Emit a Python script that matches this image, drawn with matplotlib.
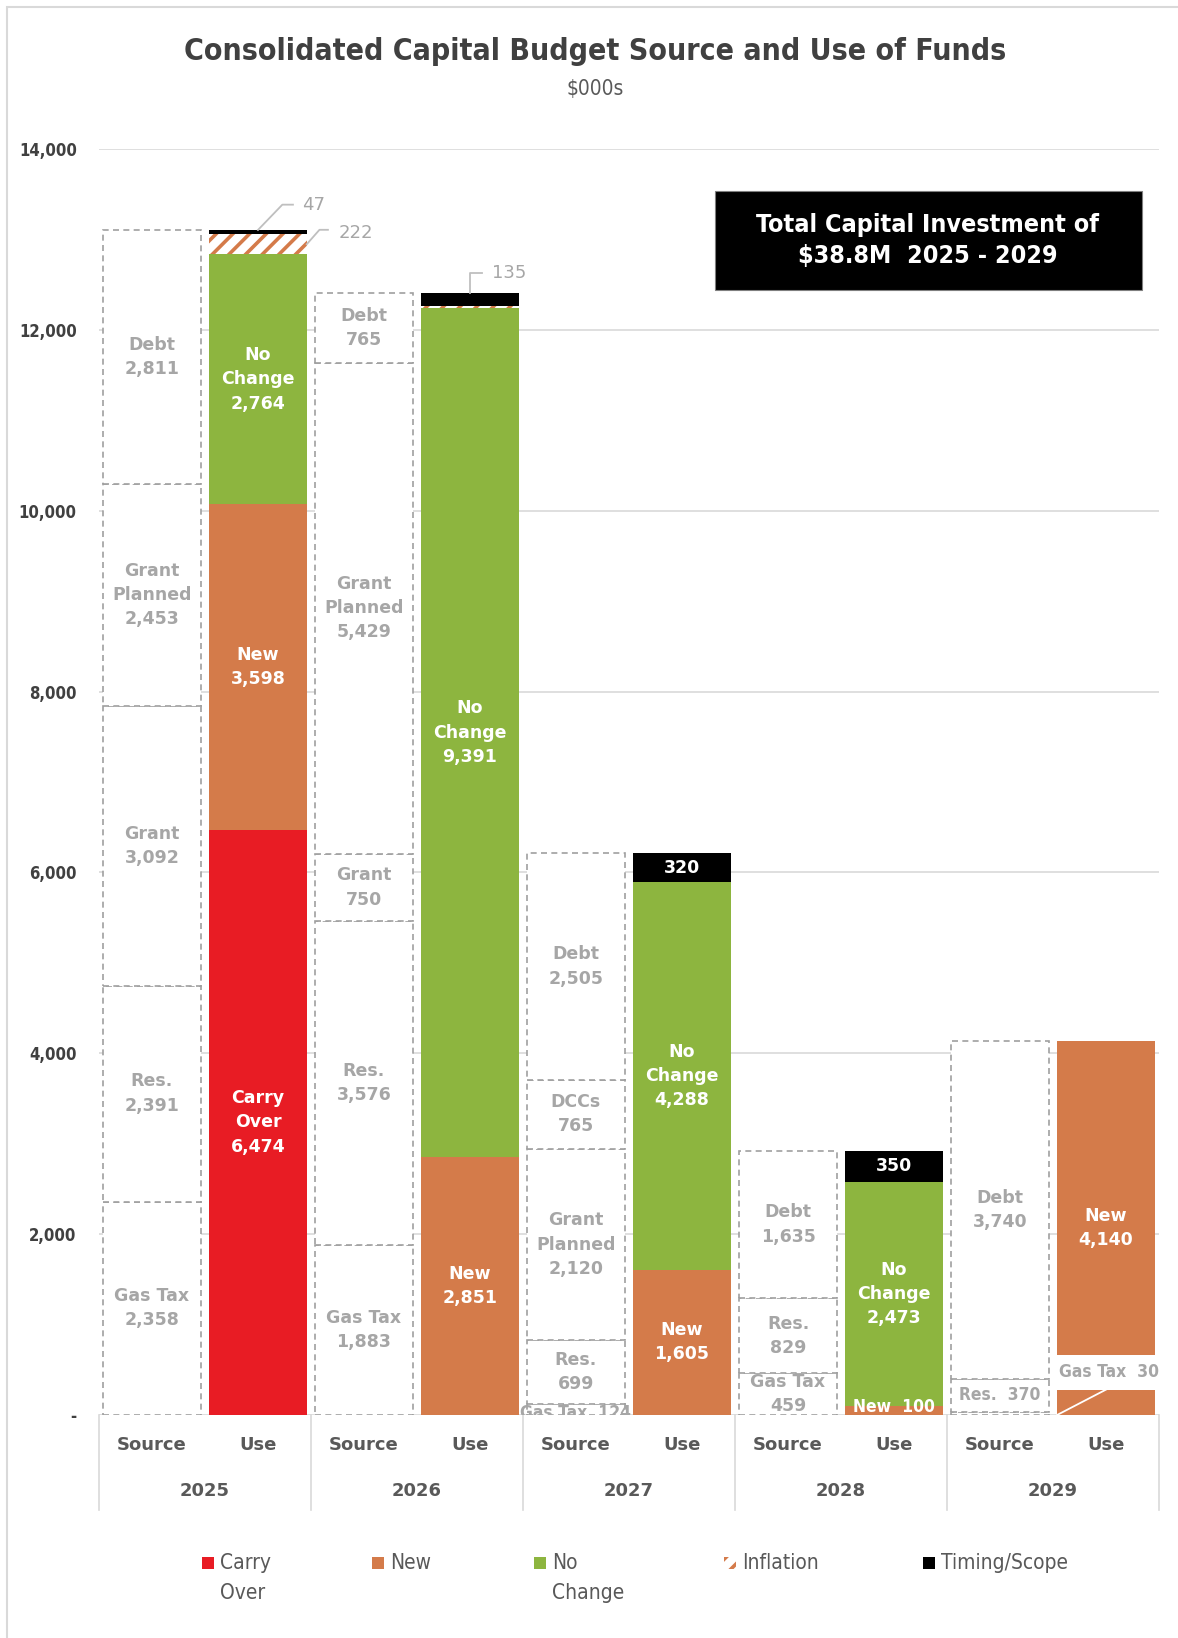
import numpy as np
import matplotlib.pyplot as plt
from matplotlib.patches import Rectangle

years = ['2025', '2026', '2027', '2028', '2029']

# sources of funds, stacked bottom to top
source_names = [
    ['Gas Tax', 'Res.', 'Grant', 'Grant\nPlanned', 'Debt'],
    ['Gas Tax', 'Res.', 'Grant', 'Grant\nPlanned', 'Debt'],
    ['Gas Tax', 'Res.', 'Grant\nPlanned', 'DCCs', 'Debt'],
    ['Gas Tax', 'Res.', 'Debt'],
    ['Gas Tax', 'Res.', 'Debt'],
]
source_vals = [
    [2358, 2391, 3092, 2453, 2811],
    [1883, 3576, 750, 5429, 765],
    [124, 699, 2120, 765, 2505],
    [459, 829, 1635],
    [30, 370, 3740],
]

# uses of funds
use_names = ['Carry\nOver', 'New', 'No\nChange', 'Inflation', 'Timing/Scope']
carry_over = [6474, 0, 0, 0, 0]
new = [3598, 2851, 1605, 100, 4140]
no_change = [2764, 9391, 4288, 2473, 0]
inflation = [222, 26, 0, 0, 0]
timing = [47, 135, 320, 350, 0]

RED = '#E81C24'
ORANGE = '#D47B4A'
GREEN = '#8DB53F'
BLACK = '#000000'
GRAY_LBL = '#A6A6A6'
DARK = '#404040'
MID = '#595959'
GRID = '#D9D9D9'

FAM = ['DejaVu Sans']
COND = 'condensed'

plt.rcParams['hatch.color'] = ORANGE
plt.rcParams['hatch.linewidth'] = 2.6

fig = plt.figure(figsize=(11.78, 16.38), dpi=100)
ax = fig.add_axes([0.084, 0.1362, 0.8999, 0.7728])
ax.set_xlim(-0.5, 9.5)
ax.set_ylim(0, 14000)

W = 0.92
xs_src = np.arange(5) * 2
xs_use = np.arange(5) * 2 + 1

# gridlines
for v in range(2000, 14001, 2000):
    ax.axhline(v, color=GRID, lw=1.2, zorder=0)

# source boxes
for i in range(5):
    bottom = 0
    for name, v in zip(source_names[i], source_vals[i]):
        ax.bar(xs_src[i], v, W, bottom=bottom, facecolor='white', edgecolor='#A0A0A0',
               linestyle=(0, (3.6, 2.6)), linewidth=1.2, zorder=2)
        mid = bottom + v / 2
        flat = name.replace('\n', ' ')
        if v < 100 and i == 4:
            # too small to label inside; label sits over the neighbouring use bar
            lx, ly = xs_use[i], bottom + 470
            ax.add_patch(Rectangle((xs_use[i] - W / 2, ly - 190), W, 385,
                                   facecolor='white', edgecolor='none', zorder=4))
            ax.plot([xs_use[i] - W / 2, xs_use[i]], [bottom, ly - 190], color='white',
                    lw=1.3, zorder=4)
            ax.text(lx + 0.03, ly, f'{flat}  {v:,}', ha='center', va='center', color=GRAY_LBL,
                    fontsize=12.5, fontweight='bold', family=FAM, fontstretch=COND, zorder=5)
        elif v < 400:
            ax.text(xs_src[i], max(mid, 215) if v > 200 else 25, f'{flat}  {v:,}',
                    ha='center', va='center', color=GRAY_LBL, fontsize=12.5,
                    fontweight='bold', family=FAM, fontstretch=COND, zorder=3, clip_on=True)
        else:
            ax.text(xs_src[i], mid, f'{name}\n{v:,}', ha='center', va='center',
                    color=GRAY_LBL, fontsize=12.5, fontweight='bold', family=FAM,
                    linespacing=1.45, zorder=3, clip_on=True)
        bottom += v

# use bars
use_series = [carry_over, new, no_change, inflation, timing]
use_colors = [RED, ORANGE, GREEN, 'white', BLACK]
bottoms = np.zeros(5)
for k, (vals, col) in enumerate(zip(use_series, use_colors)):
    vals = np.array(vals, dtype=float)
    if k == 3:
        ax.bar(xs_use, vals, W, bottom=bottoms, facecolor='white', edgecolor=ORANGE,
               hatch='//', linewidth=0, zorder=2)
    else:
        ax.bar(xs_use, vals, W, bottom=bottoms, color=col, linewidth=0, zorder=2)
    for i in range(5):
        v = vals[i]
        if v <= 0:
            continue
        mid = bottoms[i] + v / 2
        name = use_names[k]
        if k == 4 and v >= 200:
            ax.text(xs_use[i], mid, f'{int(v):,}', ha='center', va='center', color='white',
                    fontsize=12.5, fontweight='bold', family=FAM, zorder=5)
        elif k < 3 and v < 400:
            ax.text(xs_use[i], mid + 40, f'{name}  {int(v):,}', ha='center', va='center',
                    color='white', fontsize=12.5, fontweight='bold', family=FAM,
                    fontstretch=COND, zorder=5)
        elif k < 3:
            ax.text(xs_use[i], mid, f'{name}\n{int(v):,}', ha='center', va='center',
                    color='white', fontsize=12.5, fontweight='bold', family=FAM,
                    linespacing=1.45, zorder=5)
    bottoms += vals

# callouts for the thin slices on top of the 2025 and 2026 bars
top25 = bottoms[0]
ax.plot([1, 1.23, 1.33], [top25, top25 + 280, top25 + 280], color='#BFBFBF', lw=1.3,
        zorder=3, clip_on=False)
ax.text(1.42, top25 + 280, f'{timing[0]:,}', ha='left', va='center', color=GRAY_LBL,
        fontsize=13, family=FAM)
infl_mid = top25 - timing[0] - inflation[0] / 2
ax.plot([1 + W / 2, 1.58, 1.66], [infl_mid, infl_mid + 160, infl_mid + 160],
        color='#BFBFBF', lw=1.3, zorder=3)
ax.text(1.76, infl_mid + 130, f'{inflation[0]:,}', ha='left', va='center',
        color=GRAY_LBL, fontsize=13, family=FAM)
top26 = bottoms[1]
ax.plot([3, 3, 3.11], [top26, top26 + 230, top26 + 230], color='#BFBFBF', lw=1.3, zorder=3)
ax.text(3.21, top26 + 230, f'{timing[1]:,}', ha='left', va='center', color=GRAY_LBL,
        fontsize=13, family=FAM)

# total box
ax.add_patch(Rectangle((5.31, 12440), 4.03, 1095, facecolor='black', edgecolor='#7F7F7F',
                       lw=0.8, zorder=5))
ax.text(7.32, 12987, 'Total Capital Investment of\n$38.8M  2025 - 2029', ha='center',
        va='center', color='white', fontsize=18, fontweight='bold', family=FAM,
        fontstretch=COND, linespacing=1.35, zorder=6)

# y axis
ax.set_yticks(range(0, 14001, 2000))
ax.set_yticklabels(['-' if v == 0 else f'{v:,}' for v in range(0, 14001, 2000)])
ax.tick_params(axis='y', length=0, pad=16, labelsize=12, labelcolor=DARK)
for t in ax.get_yticklabels():
    t.set_fontweight('bold')
    t.set_family(FAM)
    t.set_fontstretch(COND)
ax.set_xticks([])
for s in ax.spines.values():
    s.set_visible(False)
ax.axhline(0, color=GRID, lw=1.2, zorder=1)

# two-level category axis
tr = ax.get_xaxis_transform()
for i in range(5):
    ax.text(xs_src[i], -0.0237, 'Source', transform=tr, ha='center', va='center',
            color=MID, fontsize=13, fontweight='bold', family=FAM)
    ax.text(xs_use[i], -0.0237, 'Use', transform=tr, ha='center', va='center',
            color=MID, fontsize=13, fontweight='bold', family=FAM)
    ax.text(xs_src[i] + 0.5, -0.0600, years[i], transform=tr, ha='center', va='center',
            color=MID, fontsize=13, fontweight='bold', family=FAM)
for b in np.arange(6) * 2 - 0.5:
    ax.plot([b, b], [0, -0.075], transform=tr, color=GRID, lw=1.2, clip_on=False)

# titles
fig.text(0.505, 1 - 52 / 1638, 'Consolidated Capital Budget Source and Use of Funds',
         ha='center', va='center', fontsize=21.7, fontweight='bold', color=DARK, family=FAM,
         fontstretch=COND)
fig.text(0.505, 1 - 89 / 1638, '$000s', ha='center', va='center', fontsize=15,
         color=MID, family=FAM, fontstretch=COND)

# legend
leg_x = [202, 372, 534, 724, 923]
leg_fc = [RED, ORANGE, GREEN, 'white', BLACK]
for x, fc, name in zip(leg_x, leg_fc, use_names):
    y = 1 - 1563 / 1638
    sq = Rectangle((x / 1178, y - 6 / 1638), 12 / 1178, 12 / 1638, transform=fig.transFigure,
                   facecolor=fc, edgecolor=ORANGE if fc == 'white' else 'none',
                   hatch='//' if fc == 'white' else None, lw=0)
    fig.patches.append(sq)
    for j, ln in enumerate(name.split('\n')):
        fig.text((x + 18) / 1178, y - j * 30 / 1638, ln, ha='left', va='center', fontsize=15,
                 color=MID, family=FAM, fontstretch=COND)

# chart border
fig.patches.append(Rectangle((7 / 1178, -0.01), 1.1, 1 - 7 / 1638 + 0.01,
                             transform=fig.transFigure, facecolor='none',
                             edgecolor='#D9D9D9', lw=1.5))

fig.savefig('out.png', dpi=100)
